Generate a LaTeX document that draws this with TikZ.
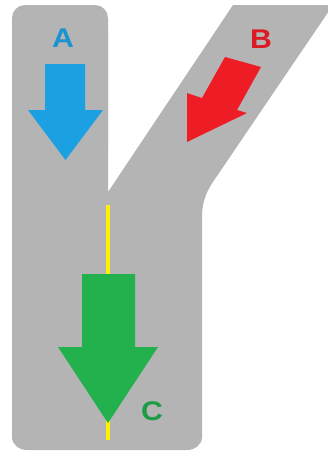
\documentclass[tikz,border=0pt]{standalone}
\usepackage{fontspec}
\setmainfont{Liberation Sans}
\definecolor{road}{HTML}{B4B4B4}
\definecolor{ablue}{HTML}{1BA1E2}
\definecolor{bred}{HTML}{EE1C24}
\definecolor{cgreen}{HTML}{22B14C}
\definecolor{lineyellow}{HTML}{FFF000}
\tikzset{
  lbl/.style={font=\fontsize{27}{27}\selectfont\bfseries, inner sep=0pt, xscale=1.12, transform shape},
}
\begin{document}
\begin{tikzpicture}[x=1pt,y=-1pt]
\useasboundingbox (0,0) rectangle (328,459);
% road
\fill[road, rounded corners=13pt]
  (12,200) -- (12,5) -- (108,5) -- (108,150);
\fill[road]
  (12,30) -- (12,437) to[out=-90,in=180] (27,450) -- (187,450) to[out=0,in=-90] (202,437)
  -- (202,218) .. controls (202,200) and (207,190) .. (217,176)
  -- (333,5) -- (233,5) -- (108,192) -- (108,30) -- cycle;
\fill[road] (12,18) -- (108,18) -- (108,40) -- (12,40) -- cycle;
% yellow line
\draw[lineyellow, line width=3.5pt] (108,205) -- (108,440);
% blue arrow
\fill[ablue] (45,64) -- (85,64) -- (85,110) -- (103,110) -- (65.5,160) -- (28,110) -- (45,110) -- cycle;
% red arrow
\fill[bred] (225,57) -- (261,67) -- (237,110) -- (247,113) -- (187,142) -- (187,93) -- (202,98) -- cycle;
% green arrow
\fill[cgreen] (82,274) -- (135,274) -- (135,347) -- (158,347) -- (108,423) -- (58,347) -- (82,347) -- cycle;
% labels
\node[lbl, text=ablue!92!black] (la) at (63,38) {A};
\node[lbl, text=bred!92!black] (lb) at (261,39) {B};
\node[lbl, text=cgreen!88!black] (lc) at (152,411) {C};
\end{tikzpicture}
\end{document}
